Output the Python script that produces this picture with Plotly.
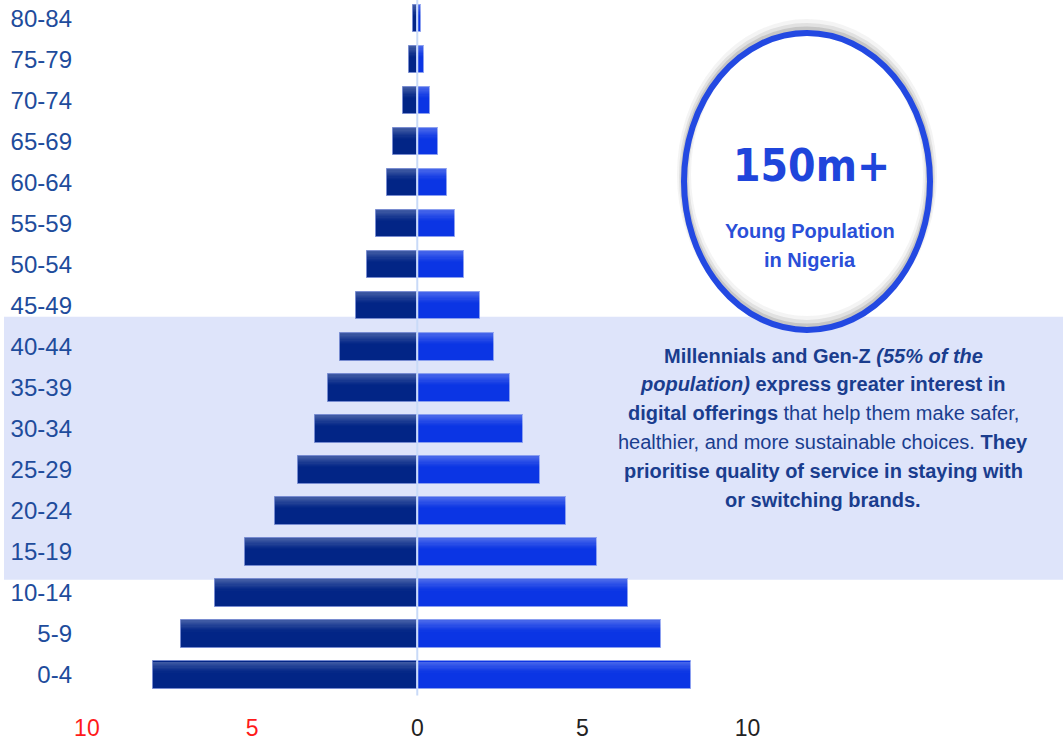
import plotly.graph_objects as go

# Population pyramid data (% of total population by 5-year age group)
age_groups = ["0-4", "5-9", "10-14", "15-19", "20-24", "25-29", "30-34", "35-39",
              "40-44", "45-49", "50-54", "55-59", "60-64", "65-69", "70-74",
              "75-79", "80-84"]
male_pct = [8.0, 7.15, 6.13, 5.22, 4.32, 3.62, 3.11, 2.71, 2.34, 1.84, 1.52,
            1.24, 0.92, 0.74, 0.42, 0.24, 0.13]
female_pct = [8.3, 7.39, 6.39, 5.45, 4.5, 3.7, 3.19, 2.82, 2.32, 1.91, 1.4,
              1.13, 0.9, 0.63, 0.39, 0.21, 0.11]

x_tick_vals = [-10, -5, 0, 5, 10]
x_tick_labels = ["10", "5", "0", "5", "10"]
x_tick_colors = ["#ff1a1a", "#ff1a1a", "#222222", "#222222", "#222222"]

headline = "150m+"
headline_sub = ["Young Population", "in Nigeria"]
body_lines = [
    "<b>Millennials and Gen-Z <i>(55% of the</i></b>",
    "<b><i>population)</i> express greater interest in</b>",
    "<b>digital offerings</b> that help them make safer,",
    "healthier, and more sustainable choices. <b>They</b>",
    "<b>prioritise quality of service in staying with</b>",
    "<b>or switching brands.</b>",
]

# Canvas geometry
W, H = 1063, 745
ML, MR, MT, MB = 77, 0, 0, 33
PW, PH = W - ML - MR, H - MT - MB


def px(x):
    return (x - ML) / PW


def py(y):
    return 1 - (y - MT) / PH


BAR_W = 0.67
fig = go.Figure()

# Main bars: males to the left (negative), females to the right
fig.add_trace(go.Bar(
    y=age_groups, x=[-v for v in male_pct], orientation="h",
    width=BAR_W, offset=-BAR_W / 2,
    marker=dict(color="#022586", line=dict(color="rgba(120,140,210,0.9)", width=1)),
    hoverinfo="skip", showlegend=False,
))
fig.add_trace(go.Bar(
    y=age_groups, x=female_pct, orientation="h",
    width=BAR_W, offset=-BAR_W / 2,
    marker=dict(color="#0b35e4", line=dict(color="rgba(140,160,240,0.9)", width=1)),
    hoverinfo="skip", showlegend=False,
))

# Glossy highlight fading down from the top edge of each bar
strip_h = 0.03
alphas = [0.24, 0.21, 0.18, 0.15, 0.12, 0.09, 0.06, 0.035, 0.015]
for i, alpha in enumerate(alphas):
    off = BAR_W / 2 - 0.005 - (i + 1) * strip_h
    for side in ([-v for v in male_pct], female_pct):
        fig.add_trace(go.Bar(
            y=age_groups, x=side, orientation="h",
            width=strip_h, offset=off,
            marker=dict(color=f"rgba(255,255,255,{alpha})", line=dict(width=0)),
            hoverinfo="skip", showlegend=False,
        ))

shapes = []
# Highlighted band behind the Millennials / Gen-Z age groups
shapes.append(dict(type="rect", xref="paper", yref="y",
                   x0=px(4), x1=px(1063), y0=2.32, y1=8.73,
                   fillcolor="#dee4fa", line=dict(width=0), layer="below"))
# Centre divider
shapes.append(dict(type="line", xref="x", yref="y", x0=0, x1=0, y0=-0.5, y1=16.5,
                   line=dict(color="#c9daf8", width=2), layer="above"))

# Badge ellipse with soft shadow
ex0, ex1, ey0, ey1 = 684, 930, 33, 330
shapes.append(dict(type="circle", xref="paper", yref="paper",
                   x0=px(ex0), x1=px(ex1), y0=py(ey1), y1=py(ey0),
                   fillcolor="white", line=dict(width=0), layer="above"))
for dy, wdt, op in [(-7, 14, 0.06), (-5, 10, 0.10), (-3, 7, 0.16)]:
    shapes.append(dict(type="circle", xref="paper", yref="paper",
                       x0=px(ex0), x1=px(ex1), y0=py(ey1 + dy), y1=py(ey0 + dy),
                       line=dict(color=f"rgba(60,60,60,{op})", width=wdt),
                       fillcolor="rgba(0,0,0,0)", layer="above"))
shapes.append(dict(type="circle", xref="paper", yref="paper",
                   x0=px(ex0), x1=px(ex1), y0=py(ey1), y1=py(ey0),
                   line=dict(color="#2349e2", width=6),
                   fillcolor="rgba(0,0,0,0)", layer="above"))

annotations = []
annotations.append(dict(
    x=px(811), y=py(165), xref="paper", yref="paper", showarrow=False,
    text=f"<b>{headline}</b>",
    font=dict(family="DejaVu Sans Condensed, Liberation Sans Narrow, sans-serif",
              size=44, color="#1f45db"),
    xanchor="center", yanchor="middle",
))
for txt, yy in zip(headline_sub, [231, 260]):
    annotations.append(dict(
        x=px(810), y=py(yy), xref="paper", yref="paper", showarrow=False,
        text=f"<b>{txt}</b>",
        font=dict(family="Liberation Sans, Arial, sans-serif", size=20, color="#2a4fd8"),
        xanchor="center", yanchor="middle",
    ))
for txt, yy in zip(body_lines, [356, 384, 413, 442, 471, 500]):
    annotations.append(dict(
        x=px(823), y=py(yy), xref="paper", yref="paper", showarrow=False,
        text=txt,
        font=dict(family="Liberation Sans, Arial, sans-serif", size=20, color="#1a3d8e"),
        xanchor="center", yanchor="middle",
    ))

tick_text = [f'<span style="color:{c}">{t}</span>' for t, c in zip(x_tick_labels, x_tick_colors)]

fig.update_layout(
    width=W, height=H,
    margin=dict(l=ML, r=MR, t=MT, b=MB, pad=0),
    paper_bgcolor="white", plot_bgcolor="rgba(0,0,0,0)",
    barmode="overlay", bargap=0,
    shapes=shapes, annotations=annotations,
    xaxis=dict(range=[-10.3, (W - 417) / 33.05], tickvals=x_tick_vals, ticktext=tick_text,
               showgrid=False, zeroline=False, showline=False, ticks="",
               tickfont=dict(family="Liberation Sans, Arial, sans-serif", size=23, color="#222222"),
               fixedrange=True),
    yaxis=dict(categoryorder="array", categoryarray=age_groups, range=[-0.9, 16.45],
               showgrid=False, zeroline=False, showline=False, ticks="",
               ticklabelstandoff=4,
               tickfont=dict(family="Liberation Sans, Arial, sans-serif", size=24, color="#1e4c9c"),
               fixedrange=True),
    showlegend=False,
)

fig.write_html("out.html")
